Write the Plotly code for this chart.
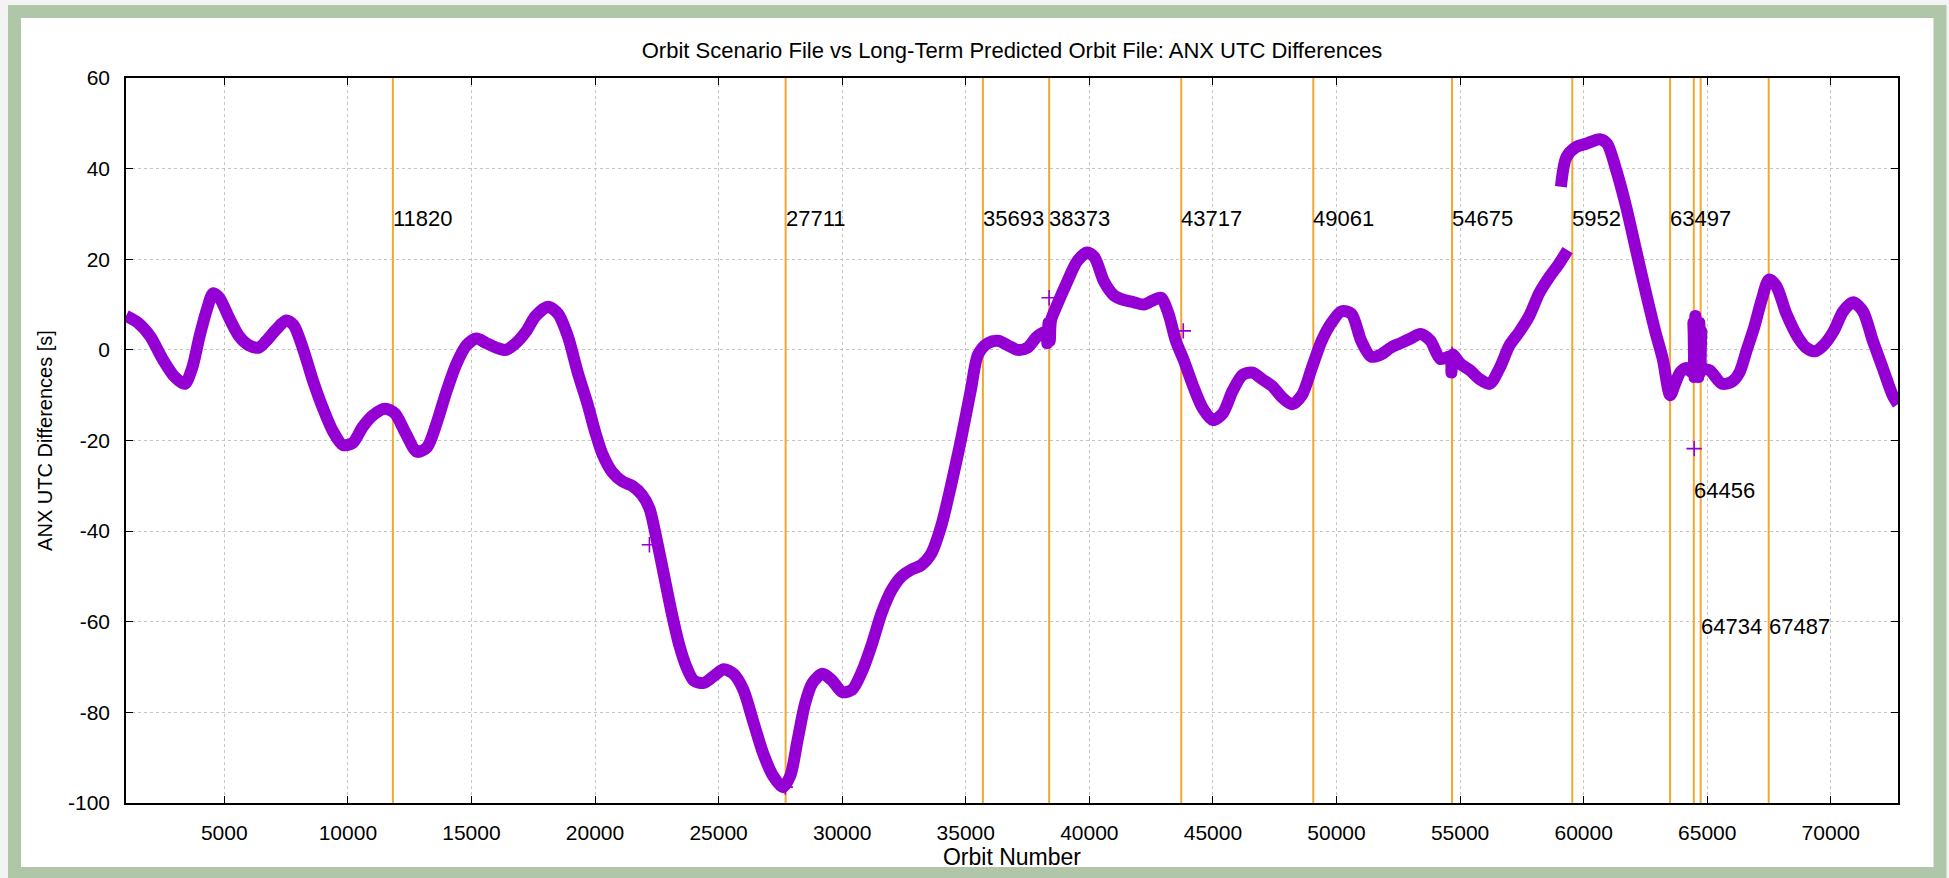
import plotly.graph_objects as go

# ANX differences along the orbit number
orbit_a = [1023, 1500, 2000, 2500, 3000, 3400, 3700, 4000, 4300, 4550, 4800, 5200, 5600, 6000,
           6400, 6700, 7100, 7500, 7800, 8200, 8600, 9000, 9400, 9800, 10200, 10600, 11000,
           11500, 11900, 12300, 12800, 13200, 13600, 14000, 14400, 14800, 15200, 15600, 16000,
           16400, 16800, 17200, 17600, 18100, 18500, 18900, 19300, 19700, 20000, 20300, 20700,
           21100, 21500, 21900, 22200, 22500, 22800, 23100, 23400, 23700, 24000, 24400, 24800,
           25200, 25600, 26000, 26400, 26800, 27200, 27600, 27900, 28200, 28500, 28800, 29200,
           29600, 30000, 30400, 30800, 31200, 31600, 32000, 32400, 32800, 33200, 33600, 34000,
           34400, 34800, 35200, 35500, 35900, 36300, 36700, 37100, 37500, 37900, 38250, 38300,
           38350, 38400, 38450, 38700, 39100, 39500, 39900, 40200, 40600, 41000, 41400, 41800,
           42200, 42600, 42900, 43200, 43500, 43800, 44200, 44600, 45000, 45400, 45800, 46200,
           46600, 47000, 47400, 47800, 48200, 48600, 49000, 49400, 49800, 50200, 50600, 51000,
           51400, 51800, 52200, 52600, 53000, 53400, 53800, 54200, 54600, 54650, 54700, 55000,
           55400, 55800, 56200, 56600, 57000, 57400, 57800, 58200, 58600, 59000, 59350]
diff_a = [7.5, 6, 3, -2, -6, -7.5, -4, 3, 9, 12.5, 11.5, 7, 3, 1,
          0.5, 2, 4.5, 6.5, 5.5, 0, -7, -13, -18, -21, -20.5, -17, -14.5,
          -13, -14, -18, -22.5, -21.5, -16, -9, -3, 1, 2.5, 1.5, 0.5,
          0, 1.5, 4, 7.5, 9.5, 8, 3, -5, -12, -18, -23, -27,
          -29, -30, -32, -35, -42, -50, -58, -65, -70, -73, -73.5, -72,
          -70.5, -71.5, -75, -82, -89, -94, -96.5, -94, -86, -78, -73.5, -71.5,
          -73, -75.5, -75, -71, -65, -58, -53, -50, -48.5, -47.5, -45, -39,
          -30, -20, -9, -1, 1.5, 2, 1, 0, 0.5, 3, 4, 1.5,
          6, 2, 6.5, 10, 15, 19.5, 21.5, 20.5, 15, 12, 11, 10.5,
          10, 11, 11.5, 8, 2, -2, -8, -13, -15.5, -14, -9, -5.5,
          -5, -6.5, -8, -10.5, -12, -10, -4, 2, 6, 8.5, 8, 2,
          -1.5, -1, 0.5, 1.5, 2.5, 3.5, 2, -2, -1.5, -5, -1, -3,
          -4.5, -6.5, -7.5, -4, 1, 4, 7.5, 12.5, 16, 19, 22]

orbit_b = [59080, 59300, 59700, 60100, 60650, 60950, 61300, 61700, 62100, 62500, 62900, 63200,
           63500, 63700, 63900, 64150, 64400, 64440, 64480, 64520, 64560, 64600, 64640, 64680,
           64720, 64760, 64800, 65100, 65600, 66000, 66300, 66600, 66900, 67200, 67500, 67800,
           68200, 68700, 69000, 69350, 69700, 70100, 70500, 70900, 71300, 71700, 72100, 72500, 72718]
diff_b = [36, 42.5, 44.8, 45.5, 46.5, 45.5, 40, 32, 22.5, 13, 4, -2,
          -10, -7.5, -5, -4, -5, 6, -6, 7.5, -5, 6, -6, 6,
          -5, 4, -4, -4.5, -7.5, -7, -5, 0, 5, 11, 15.5, 14,
          8, 2.5, 0.5, -0.3, 1, 4, 8.5, 10.5, 8.5, 2, -4, -10, -12]

# isolated samples
orbit_pts = [22200, 27700, 38373, 43800, 54675, 64470]
diff_pts = [-43, -96.5, 11.5, 4.2, -1, -21.8]

# event orbits marked with vertical lines, and their labels
event_orbits = [11820, 27711, 35693, 38373, 43717, 49061, 54675, 59540, 63497, 64456, 64734, 67487]
event_labels = ["11820", "27711", "35693", "38373", "43717", "49061", "54675", "5952", "63497",
                "64456", "64734", "67487"]
label_y = [29, 29, 29, 29, 29, 29, 29, 29, 29, -31, -61, -61]

x_ticks = list(range(5000, 70001, 5000))
y_ticks = list(range(-100, 61, 20))
y_min, y_max = -100, 60

purple = "#9400d3"
orange = "#f0a830"
font = "Liberation Sans, Arial, Helvetica, sans-serif"

fig = go.Figure()

# vertical event lines
vx, vy = [], []
for xo in event_orbits:
    vx += [xo, xo, None]
    vy += [y_min, y_max, None]
fig.add_trace(go.Scatter(x=vx, y=vy, mode="lines", line=dict(color=orange, width=2),
                         hoverinfo="skip", showlegend=False))

fig.add_trace(go.Scatter(x=orbit_a + [None] + orbit_b, y=diff_a + [None] + diff_b,
                         mode="lines", line=dict(color=purple, width=12, shape="spline",
                                                 smoothing=0.8),
                         connectgaps=False, showlegend=False))
fig.add_trace(go.Scatter(x=orbit_pts, y=diff_pts, mode="markers",
                         marker=dict(symbol="cross-thin", size=11, color=purple,
                                     line=dict(color=purple, width=1.6)),
                         showlegend=False))

for xo, txt, yy in zip(event_orbits, event_labels, label_y):
    fig.add_annotation(x=xo, y=yy, text=txt, showarrow=False, xanchor="left",
                       yanchor="middle", xshift=-2, font=dict(size=22, color="black", family=font))

# green frame around the picture
W, H = 1949, 878
ml, mr, mt, mb = 126, 51, 78, 70
pw, ph = W - ml - mr, H - mt - mb

def px_x(p):
    return (p - ml) / pw

def px_y(p):
    return 1 - (p - mt) / ph

fig.add_shape(type="rect", xref="paper", yref="paper",
              x0=px_x(14.5), x1=px_x(1940), y0=px_y(11), y1=px_y(879),
              line=dict(color="#afc6a8", width=13), fillcolor="white", layer="below")

axis_common = dict(showline=True, linecolor="black", linewidth=1.5, mirror="ticks",
                   ticks="inside", ticklen=7, tickwidth=1.3, tickcolor="black",
                   showgrid=True, gridcolor="#c4c4c4", griddash="dot", gridwidth=1,
                   zeroline=False, tickfont=dict(size=21, color="black", family=font))

fig.update_xaxes(range=[1023, 72718], tickvals=x_ticks, ticktext=[str(v) for v in x_ticks],
                 ticklabelstandoff=10,
                 title=dict(text="Orbit Number", font=dict(size=23, color="black", family=font),
                            standoff=6),
                 **axis_common)
fig.update_yaxes(range=[y_min, y_max], tickvals=y_ticks, ticktext=[str(v) for v in y_ticks],
                 ticklabelstandoff=10,
                 title=dict(text="ANX UTC Differences [s]",
                            font=dict(size=20, color="black", family=font), standoff=10),
                 **axis_common)

fig.update_layout(
    width=W, height=H,
    margin=dict(l=ml, r=mr, t=mt, b=mb),
    paper_bgcolor="#f3f3f3",
    plot_bgcolor="rgba(0,0,0,0)",
    title=dict(text="Orbit Scenario File vs Long-Term Predicted Orbit File: ANX UTC Differences",
               x=(ml + pw / 2) / W, xanchor="center", y=1 - 50 / H, yanchor="middle",
               yref="container", font=dict(size=22, color="black", family=font)),
    font=dict(family=font, color="black"),
)

fig.write_html("out.html", config={"displayModeBar": False},
               post_script="document.body.style.margin='0';document.body.style.overflow='hidden';")
